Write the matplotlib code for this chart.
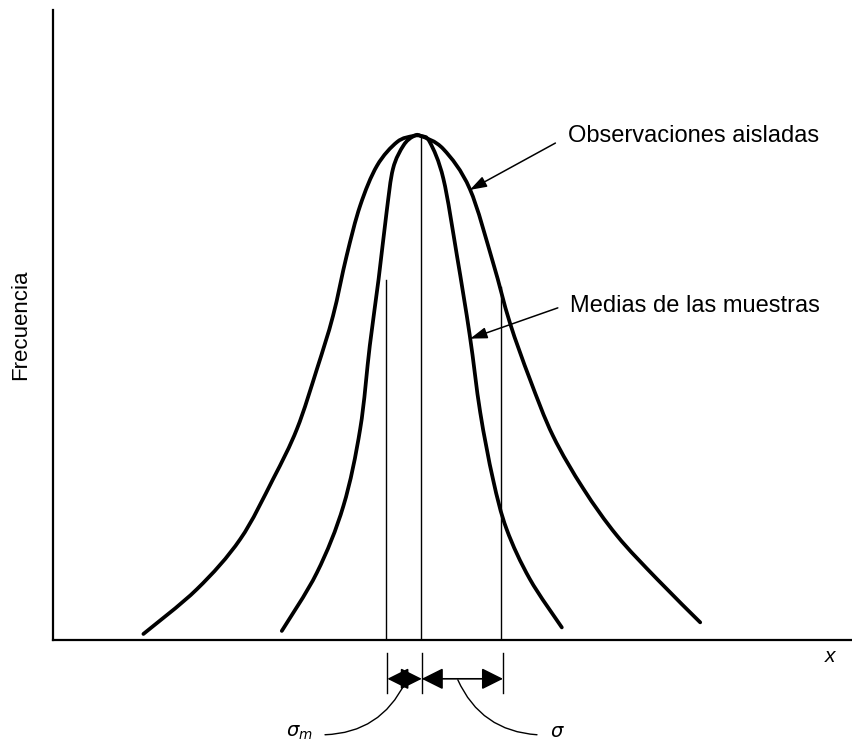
import matplotlib
matplotlib.use("Agg")
import matplotlib.pyplot as plt
from matplotlib.patches import FancyArrowPatch, PathPatch
from matplotlib.path import Path

# ---- data (x: units of sigma from the mean, y: relative frequency)
wide_x = [-3.47, -2.80, -2.26, -1.85, -1.55, -1.30, -1.10, -0.93, -0.76, -0.55, -0.30, -0.10, 0.0,
          0.28, 0.61, 0.90, 1.11, 1.36, 1.65, 2.03, 2.45, 2.95, 3.49]
wide_y = [0.012, 0.101, 0.200, 0.319, 0.419, 0.538, 0.643, 0.762, 0.862, 0.941, 0.988, 1.0, 1.0,
          0.974, 0.895, 0.749, 0.630, 0.518, 0.405, 0.300, 0.207, 0.121, 0.035]

narrow_x = [-1.74, -1.30, -0.97, -0.76, -0.64, -0.53, -0.43, -0.35, -0.22, -0.10, 0.0,
            0.11, 0.28, 0.45, 0.61, 0.74, 0.90, 1.07, 1.36, 1.76]
narrow_y = [0.018, 0.134, 0.266, 0.419, 0.584, 0.716, 0.849, 0.935, 0.981, 0.999, 1.0,
            0.988, 0.915, 0.762, 0.604, 0.452, 0.319, 0.220, 0.121, 0.025]

# vertical reference lines: sigma_m, mean, sigma
ref_x = [-0.44, 0.0, 1.0]
ref_top = [0.714, 1.0, 0.700]

curve_labels = ["Observaciones aisladas", "Medias de las muestras"]
axis_ylabel = "Frecuencia"
axis_xlabel = "x"

plt.rcParams['font.family'] = ['Liberation Sans', 'DejaVu Sans']


def smooth_path(xs, ys):
    """Smooth Bezier path through the given points (Catmull-Rom handles)."""
    pts = list(zip(xs, ys))
    n = len(pts)
    verts = [pts[0]]
    codes = [Path.MOVETO]
    for i in range(n - 1):
        p0 = pts[i - 1] if i > 0 else pts[i]
        p1 = pts[i]
        p2 = pts[i + 1]
        p3 = pts[i + 2] if i + 2 < n else pts[i + 1]
        c1 = (p1[0] + (p2[0] - p0[0]) / 6, p1[1] + (p2[1] - p0[1]) / 6)
        c2 = (p2[0] - (p3[0] - p1[0]) / 6, p2[1] - (p3[1] - p1[1]) / 6)
        verts += [c1, c2, p2]
        codes += [Path.CURVE4] * 3
    return Path(verts, codes)


fig = plt.figure(figsize=(8.53, 7.43), dpi=100)
ax = fig.add_axes([53 / 853, 103 / 743, 800 / 853, 630 / 743])
ax.set_xlim(-4.6, 5.4)
ax.set_ylim(0, 1.25)

for s in ['top', 'right']:
    ax.spines[s].set_visible(False)
for s in ['left', 'bottom']:
    ax.spines[s].set_linewidth(1.6)
ax.set_xticks([])
ax.set_yticks([])

# curves
for xs, ys in [(wide_x, wide_y), (narrow_x, narrow_y)]:
    ax.add_patch(PathPatch(smooth_path(xs, ys), facecolor='none', edgecolor='black', lw=2.7,
                           capstyle='round', joinstyle='round'))

# vertical lines
for xv, top in zip(ref_x, ref_top):
    ax.plot([xv, xv], [0, top], color='black', lw=1.0)

# labels with arrows
ax.text(1.84, 1.0, curve_labels[0], fontsize=17, va='center', ha='left')
ax.text(1.86, 0.663, curve_labels[1], fontsize=17, va='center', ha='left')
astyle = dict(arrowstyle='-|>,head_length=0.6,head_width=0.2', color='black', lw=1.1,
              shrinkA=0, shrinkB=0, mutation_scale=17)
ax.annotate('', xy=(0.61, 0.893), xytext=(1.68, 0.986), arrowprops=astyle)
ax.annotate('', xy=(0.615, 0.598), xytext=(1.71, 0.659), arrowprops=astyle)

ax.set_ylabel(axis_ylabel, fontsize=16, labelpad=16)
ax.text(5.11, -0.032, axis_xlabel, fontsize=15, style='italic', ha='center', va='center',
        clip_on=False)

# brackets below the axis
ytick_lo, ytick_hi, yarr = -0.105, -0.026, -0.077
tick_x = [ref_x[0] + 0.02, ref_x[1] + 0.01, ref_x[2] + 0.025]
for xv in tick_x:
    ax.plot([xv, xv], [ytick_lo, ytick_hi], color='black', lw=1.0, clip_on=False)
for a, b in [(tick_x[0], tick_x[1]), (tick_x[1], tick_x[2])]:
    arr = FancyArrowPatch((a, yarr), (b, yarr), arrowstyle='<|-|>,head_length=6,head_width=3',
                          color='black', lw=1.2, shrinkA=0, shrinkB=0, mutation_scale=2.2,
                          clip_on=False)
    ax.add_patch(arr)

# leader curves and sigma labels
lead1 = FancyArrowPatch((-1.2, -0.188), (-0.2, -0.085), arrowstyle='-', color='black', lw=1.0,
                        connectionstyle='arc3,rad=0.3', shrinkA=0, shrinkB=0, clip_on=False)
ax.add_patch(lead1)
lead2 = FancyArrowPatch((0.46, -0.079), (1.45, -0.188), arrowstyle='-', color='black', lw=1.0,
                        connectionstyle='arc3,rad=0.3', shrinkA=0, shrinkB=0, clip_on=False)
ax.add_patch(lead2)
ax.text(-1.35, -0.185, r'$\sigma_m$', fontsize=14, ha='right', va='center', clip_on=False)
ax.text(1.71, -0.183, r'$\sigma$', fontsize=14, ha='center', va='center', clip_on=False)

fig.savefig('out.png', dpi=100)
